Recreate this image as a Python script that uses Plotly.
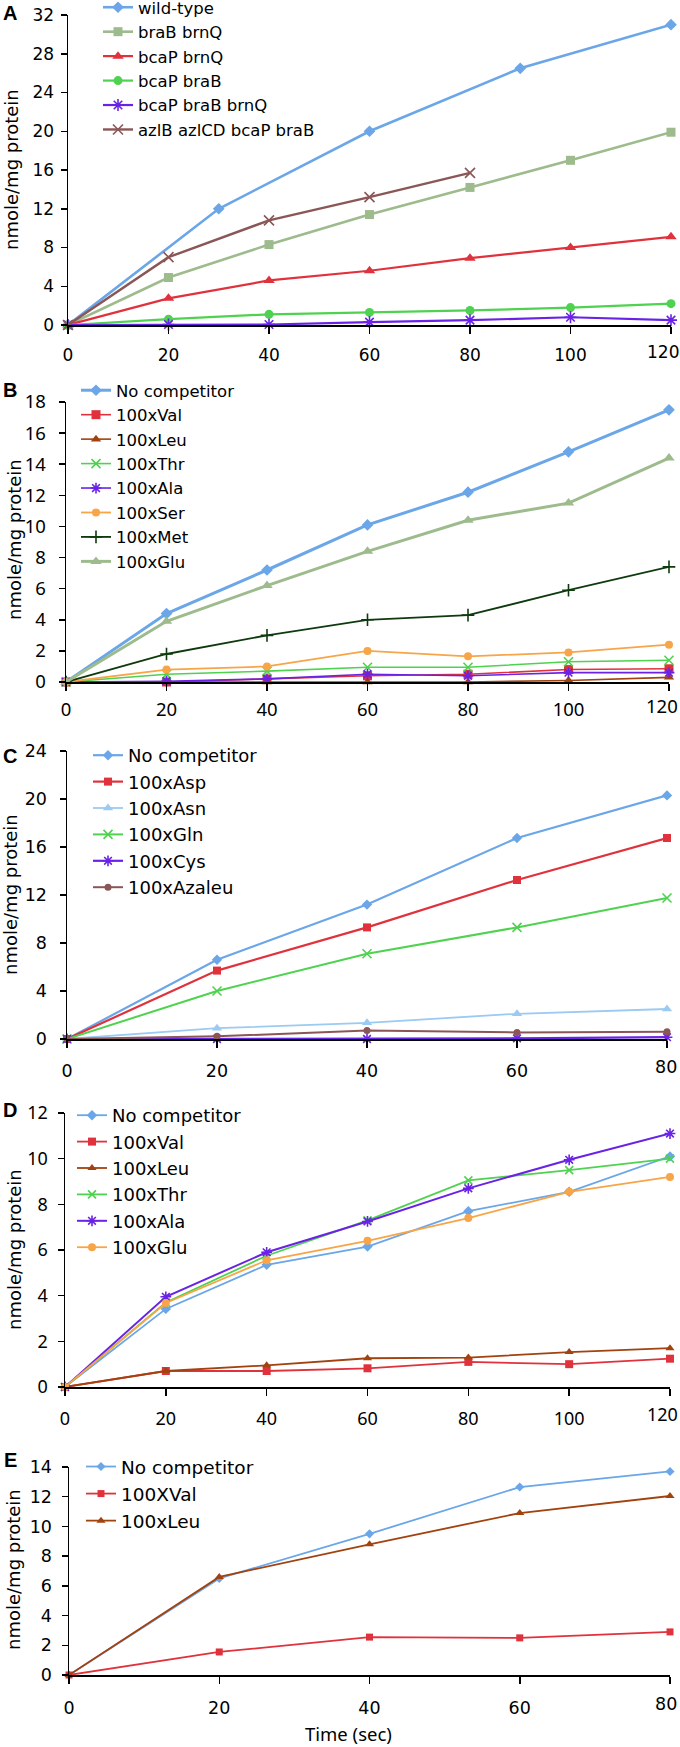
import plotly.graph_objects as go

W, H = 680, 1747

# ---------------- data ----------------
# Panel A
a_time = [0, 20, 40, 60, 80, 100, 120]
a_wt_time = [0, 30, 60, 90, 120]
a_wild_type = [0, 12.0, 20.0, 26.5, 31.0]
a_brab_brnq = [0, 4.9, 8.3, 11.4, 14.2, 17.0, 19.9]
a_bcap_brnq = [0, 2.75, 4.6, 5.6, 6.9, 8.0, 9.1]
a_bcap_brab = [0, 0.6, 1.1, 1.3, 1.5, 1.8, 2.2]
a_bcap_brab_brnq = [0, 0.05, 0.05, 0.3, 0.5, 0.8, 0.5]
a_azl_time = [0, 20, 40, 60, 80]
a_azlb_azlcd = [0, 7.0, 10.8, 13.2, 15.7]

# Panel B
b_time = [0, 20, 40, 60, 80, 100, 120]
b_no_comp = [0, 4.4, 7.2, 10.1, 12.2, 14.8, 17.5]
b_val = [0, 0.0, 0.2, 0.4, 0.5, 0.8, 0.85]
b_leu = [0, 0.0, 0.0, 0.0, 0.0, 0.1, 0.3]
b_thr = [0, 0.5, 0.7, 0.95, 0.95, 1.3, 1.4]
b_ala = [0, 0.05, 0.2, 0.5, 0.4, 0.6, 0.6]
b_ser = [0, 0.8, 1.0, 2.0, 1.65, 1.9, 2.4]
b_met = [0, 1.8, 3.0, 4.0, 4.3, 5.9, 7.4]
b_glu = [0, 3.9, 6.2, 8.4, 10.4, 11.5, 14.4]

# Panel C
c_time = [0, 20, 40, 60, 80]
c_no_comp = [0, 6.6, 11.2, 16.75, 20.3]
c_asp = [0, 5.7, 9.3, 13.25, 16.75]
c_asn = [0, 0.9, 1.35, 2.1, 2.5]
c_gln = [0, 4.0, 7.1, 9.3, 11.75]
c_cys = [0, 0.0, 0.0, 0.05, 0.15]
c_azaleu = [0, 0.22, 0.7, 0.55, 0.6]

# Panel D
d_time = [0, 20, 40, 60, 80, 100, 120]
d_no_comp = [0, 3.42, 5.35, 6.15, 7.7, 8.55, 10.1]
d_val = [0, 0.7, 0.7, 0.82, 1.1, 1.0, 1.24]
d_leu = [0, 0.7, 0.95, 1.26, 1.29, 1.53, 1.7]
d_thr = [0, 3.7, 5.75, 7.3, 9.05, 9.5, 10.0]
d_ala = [0, 3.95, 5.9, 7.25, 8.7, 9.95, 11.1]
d_glu = [0, 3.68, 5.55, 6.4, 7.4, 8.55, 9.2]

# Panel E
e_time = [0, 20, 40, 60, 80]
e_no_comp = [0, 6.5, 9.5, 12.65, 13.7]
e_val = [0, 1.55, 2.55, 2.5, 2.9]
e_leu = [0, 6.6, 8.8, 10.9, 12.05]

# tick labels
long_xticks = [0, 20, 40, 60, 80, 100, 120]
short_xticks = [0, 20, 40, 60, 80]
a_yticks = [0, 4, 8, 12, 16, 20, 24, 28, 32]
b_yticks = [0, 2, 4, 6, 8, 10, 12, 14, 16, 18]
c_yticks = [0, 4, 8, 12, 16, 20, 24]
d_yticks = [0, 2, 4, 6, 8, 10, 12]
e_yticks = [0, 2, 4, 6, 8, 10, 12, 14]

# ---------------- styles ----------------
BLUE = "#6aa6e8"
SAGE = "#9dbb8c"
RED = "#e0323c"
GREEN = "#4fd24f"
PURPLE = "#6a22e6"
BROWN = "#8b5656"
ORANGE = "#f7a548"
RUST = "#a2420e"
DKGREEN = "#0e3a0e"
LTBLUE = "#9bcaf2"

LINE_SYMS = {"asterisk-open", "x-thin-open", "cross-thin-open"}
FONT_ASCENT = {"DejaVu Sans": 0.928, "Noto Sans": 1.069}

fig = go.Figure()


def add(panel, name, x, y, color, symbol, size, width):
    idx = "" if panel == 1 else str(panel)
    mline = dict(width=1.6, color=color) if symbol in LINE_SYMS else dict(width=0)
    fig.add_trace(go.Scatter(
        x=x, y=y, name=name, mode="lines+markers",
        line=dict(color=color, width=width),
        marker=dict(symbol=symbol, size=size, color=color, line=mline),
        xaxis="x" + idx, yaxis="y" + idx, legend="legend" + idx,
        cliponaxis=False,
    ))


# Panel A
add(1, "wild-type", a_wt_time, a_wild_type, BLUE, "diamond", 9, 2.6)
add(1, "braB brnQ", a_time, a_brab_brnq, SAGE, "square", 9, 2.6)
add(1, "bcaP brnQ", a_time, a_bcap_brnq, RED, "triangle-up", 10, 2.2)
add(1, "bcaP braB", a_time, a_bcap_brab, GREEN, "circle", 9, 2.2)
add(1, "bcaP braB brnQ", a_time, a_bcap_brab_brnq, PURPLE, "asterisk-open", 10, 2.2)
add(1, "azlB azlCD bcaP braB", a_azl_time, a_azlb_azlcd, BROWN, "x-thin-open", 10, 2.4)

# Panel B
add(2, "No competitor", b_time, b_no_comp, BLUE, "diamond", 9, 3.0)
add(2, "100xVal", b_time, b_val, RED, "square", 9, 1.6)
add(2, "100xLeu", b_time, b_leu, RUST, "triangle-up", 9, 1.6)
add(2, "100xThr", b_time, b_thr, GREEN, "x-thin-open", 9, 1.6)
add(2, "100xAla", b_time, b_ala, PURPLE, "asterisk-open", 9, 1.6)
add(2, "100xSer", b_time, b_ser, ORANGE, "circle", 8, 1.8)
add(2, "100xMet", b_time, b_met, DKGREEN, "cross-thin-open", 9, 1.8)
add(2, "100xGlu", b_time, b_glu, SAGE, "triangle-up", 10, 3.0)

# Panel C
add(3, "No competitor", c_time, c_no_comp, BLUE, "diamond", 8, 2.2)
add(3, "100xAsp", c_time, c_asp, RED, "square", 8, 2.2)
add(3, "100xAsn", c_time, c_asn, LTBLUE, "triangle-up", 9, 1.8)
add(3, "100xGln", c_time, c_gln, GREEN, "x-thin-open", 9, 2.0)
add(3, "100xCys", c_time, c_cys, PURPLE, "asterisk-open", 9, 2.2)
add(3, "100xAzaleu", c_time, c_azaleu, BROWN, "circle", 7, 2.0)

# Panel D
add(4, "No competitor", d_time, d_no_comp, BLUE, "diamond", 8, 1.8)
add(4, "100xVal", d_time, d_val, RED, "square", 8, 1.8)
add(4, "100xLeu", d_time, d_leu, RUST, "triangle-up", 8, 1.8)
add(4, "100xThr", d_time, d_thr, GREEN, "x-thin-open", 8, 1.8)
add(4, "100xAla", d_time, d_ala, PURPLE, "asterisk-open", 9, 2.0)
add(4, "100xGlu", d_time, d_glu, ORANGE, "circle", 8, 1.8)

# Panel E
add(5, "No competitor", e_time, e_no_comp, BLUE, "diamond", 7, 1.8)
add(5, "100XVal", e_time, e_val, RED, "square", 7, 1.8)
add(5, "100xLeu", e_time, e_leu, RUST, "triangle-up", 8, 1.8)


# ---------------- layout ----------------
def px_x(p):
    return p / W


def px_y(p):
    return 1 - p / H


panels = [
    # (x0, x1, ytop, ybottom, xmax, ymax, xticks, yticks, tickfont, size, ytick_gap, xtick_gap, last_shift)
    (68, 671, 15, 325, 120, 32, long_xticks, a_yticks, "DejaVu Sans", 17, 3, 7, -8),
    (66, 669, 402, 682, 120, 18, long_xticks, b_yticks, "Noto Sans", 18.5, 9, 3, -7),
    (67, 667, 751, 1039, 80, 24, short_xticks, c_yticks, "DejaVu Sans", 17.5, 9, 8, -1),
    (65, 670, 1113, 1387, 120, 12, long_xticks, d_yticks, "Noto Sans", 18, 6, 7, -8),
    (69, 670, 1467, 1675, 80, 14, short_xticks, e_yticks, "DejaVu Sans", 17.5, 6, 9, -4),
]

TICKLEN_X = 7
XLINE_W = 2

layout = dict(
    width=W, height=H,
    margin=dict(l=0, r=0, t=0, b=0, autoexpand=False),
    paper_bgcolor="white", plot_bgcolor="white",
    showlegend=True,
)

annotations = []

for i, (x0, x1, yt, yb, xmax, ymax, xt, yt_vals, tfont, tsize, ygap, xgap, lshift) in enumerate(panels, start=1):
    idx = "" if i == 1 else str(i)
    tf = dict(family=tfont, size=tsize, color="black")
    # x axis: tick marks at every value; the last label is placed separately so it stays on the page
    layout["xaxis" + idx] = dict(
        domain=[px_x(x0), px_x(x1)], range=[0, xmax], anchor="y" + idx,
        tickvals=xt, ticktext=[str(v) for v in xt[:-1]] + [""],
        ticks="outside", ticklen=TICKLEN_X, tickwidth=1.5, tickcolor="black",
        showline=True, linecolor="black", linewidth=XLINE_W, showgrid=False, zeroline=False,
        tickfont=tf, ticklabelstandoff=xgap, ticklabeloverflow="allow",
        fixedrange=True, automargin=False,
    )
    layout["yaxis" + idx] = dict(
        domain=[px_y(yb), px_y(yt)], range=[0, ymax], anchor="x" + idx,
        tickvals=yt_vals, ticks="outside", ticklen=6, tickwidth=1.5, tickcolor="black",
        showline=True, linecolor="black", linewidth=1.5, showgrid=False, zeroline=False,
        tickfont=tf, ticklabelstandoff=ygap, ticklabeloverflow="allow",
        fixedrange=True, automargin=False,
    )
    # last x tick label, aligned with the axis's own labels
    baseline_off = XLINE_W / 2 + TICKLEN_X + xgap + tsize
    top_off = baseline_off - 1 - FONT_ASCENT[tfont] * tsize
    annotations.append(dict(
        text=str(xt[-1]), x=xt[-1], y=0, xref="x" + idx, yref="y" + idx,
        xanchor="center", yanchor="top", xshift=lshift, yshift=-top_off,
        showarrow=False, font=tf,
    ))

legend_specs = [
    # (x px, top px, font size)
    (98, -10, 16.5),
    (76, 373, 16.5),
    (88, 737, 18),
    (72, 1097, 18),
    (81, 1448, 18.5),
]
for i, (lx, lt, fs) in enumerate(legend_specs, start=1):
    idx = "" if i == 1 else str(i)
    layout["legend" + idx] = dict(
        x=px_x(lx), y=px_y(lt), xanchor="left", yanchor="top",
        bgcolor="rgba(0,0,0,0)", borderwidth=0, itemwidth=30,
        font=dict(family="DejaVu Sans", size=fs, color="black"),
        tracegroupgap=0,
    )

panel_labels = [("A", 13), ("B", 390), ("C", 756), ("D", 1110), ("E", 1460)]
for lab, cy in panel_labels:
    annotations.append(dict(
        text="<b>%s</b>" % lab, x=px_x(10), y=px_y(cy), xref="paper", yref="paper",
        xanchor="center", yanchor="middle", showarrow=False,
        font=dict(family="Liberation Sans", size=20, color="black"),
    ))

ytitles = [(11, 170), (14, 540), (10, 895), (14, 1250), (13, 1570)]
for cx, cy in ytitles:
    annotations.append(dict(
        text="nmole/mg protein", x=px_x(cx), y=px_y(cy), xref="paper", yref="paper",
        xanchor="center", yanchor="middle", textangle=-90, showarrow=False,
        font=dict(family="DejaVu Sans", size=18, color="black"),
    ))

annotations.append(dict(
    text="Time (sec)", x=px_x(349), y=px_y(1733), xref="paper", yref="paper",
    xanchor="center", yanchor="middle", showarrow=False, borderpad=0,
    font=dict(family="Noto Sans", size=18.5, color="black"),
))

layout["annotations"] = annotations
fig.update_layout(**layout)

fig.write_html(
    "out.html",
    config={"displayModeBar": False, "staticPlot": True},
    post_script="document.body.style.margin='0';document.body.style.overflow='hidden';",
)
